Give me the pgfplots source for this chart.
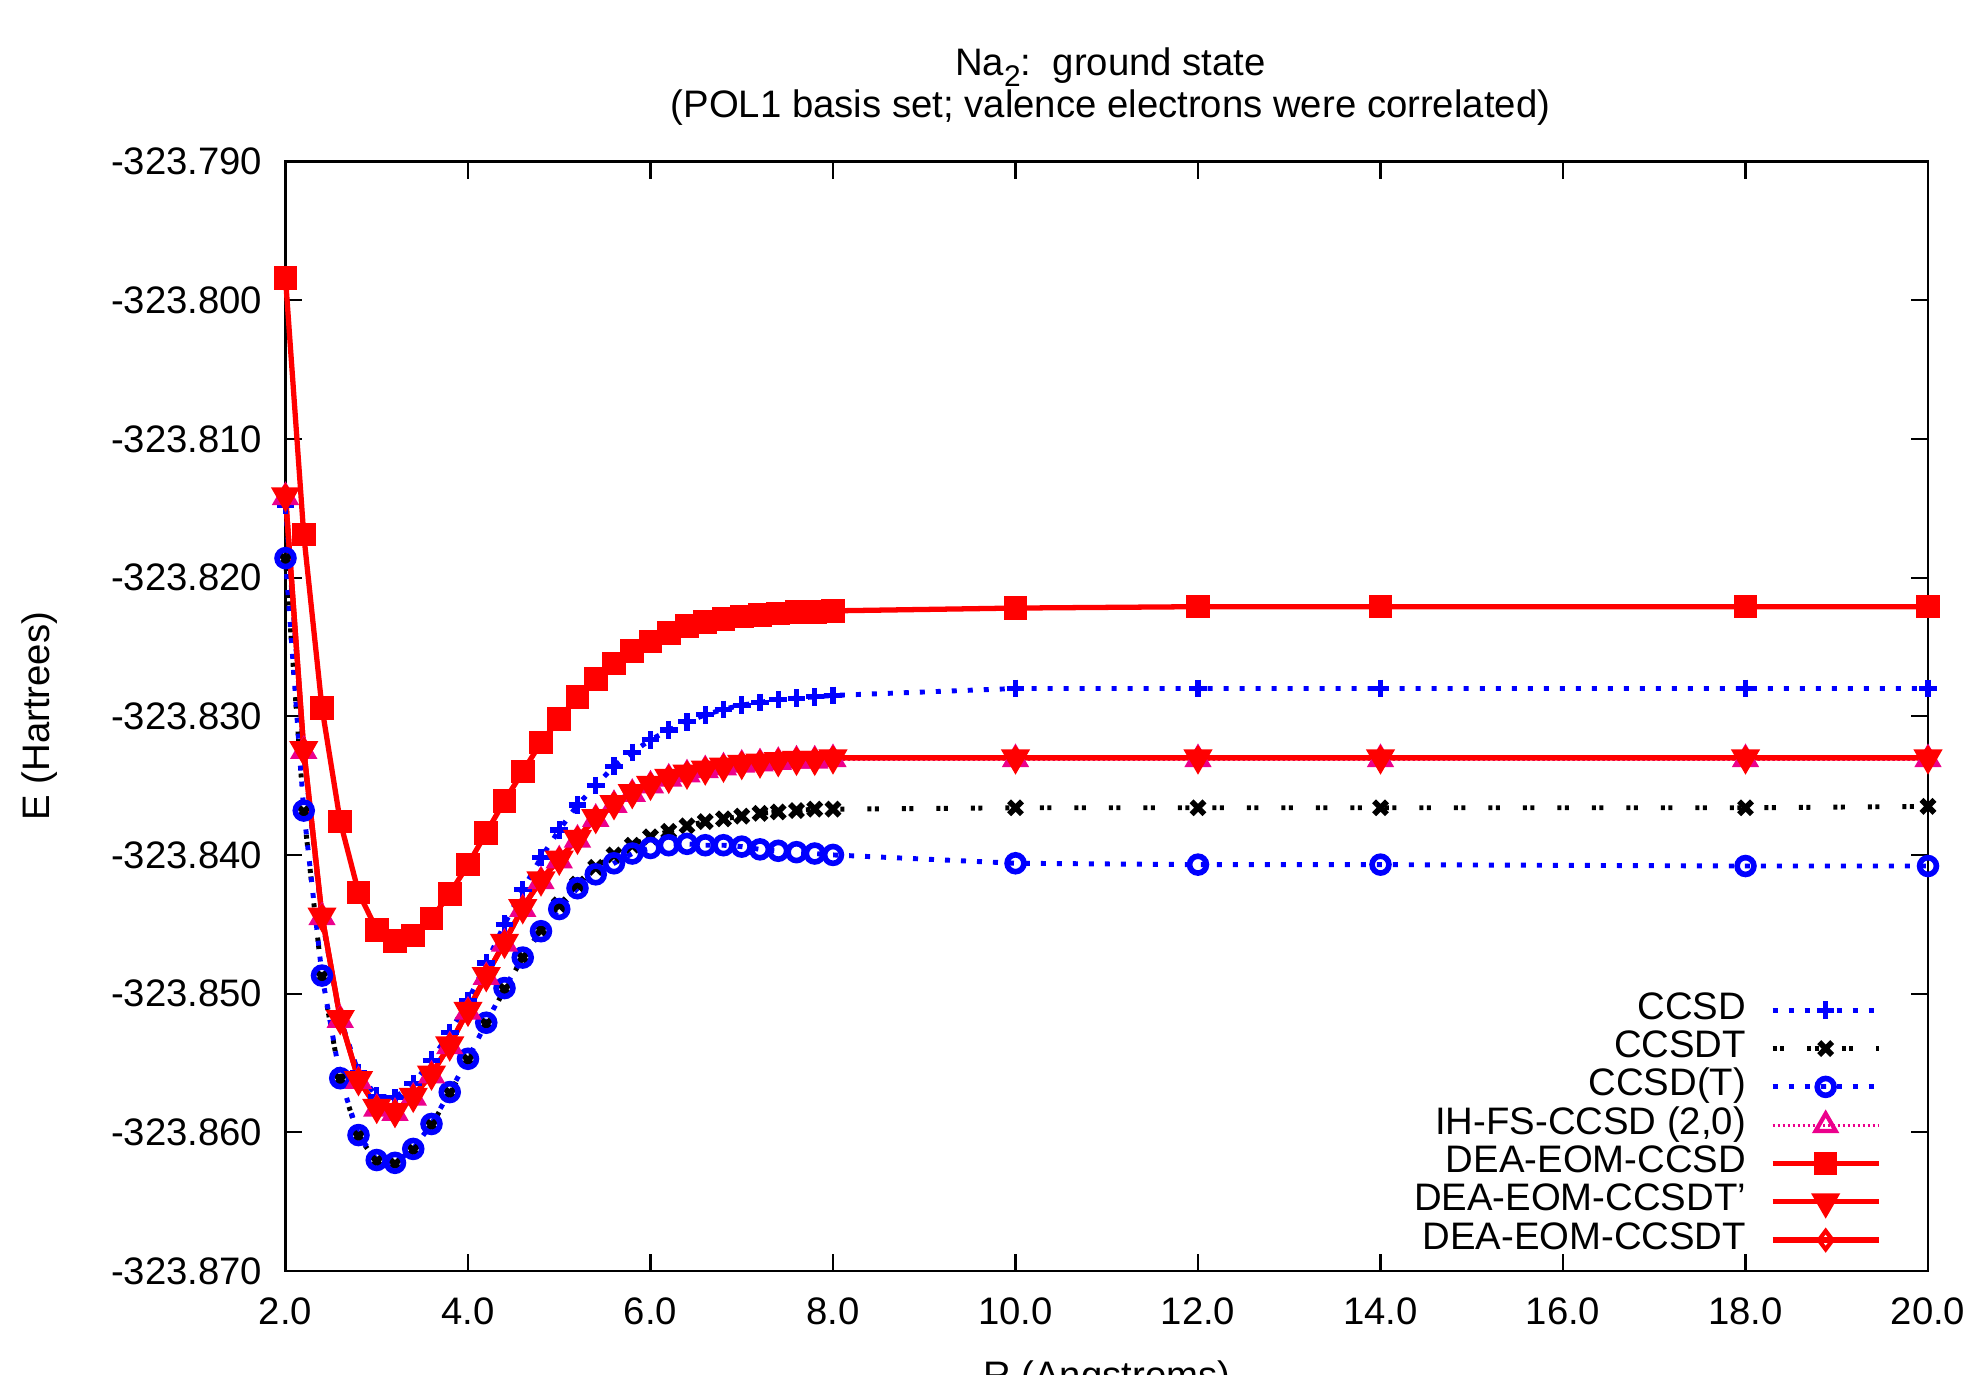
\documentclass[border=0pt]{standalone}
\usepackage{fontspec}
\setmainfont{Liberation Sans}
\usepackage{pgfplots}
\usepackage{pgfplotstable}
\pgfplotsset{compat=1.18}
\newcommand\fsz{\fontsize{10.9}{11.8}\selectfont}
% every energy starts with -323. ; keep only the digits after it so the FPU keeps its precision
\def\Eshift#1.#2#3#4#5\relax{\def\pgfmathresult{-#2#3#4.#5}}

\pgfplotstableread{
R    ccsd      ccsdt     ccsdpt    ihfs      dea       deatp     deat
2.0  -323.8148 -323.8187 -323.8186 -323.8142 -323.7984 -323.8141 -323.8141
2.2  -323.8327 -323.8369 -323.8368 -323.8325 -323.8169 -323.8324 -323.8324
2.4  -323.8446 -323.8488 -323.8487 -323.8445 -323.8294 -323.8444 -323.8444
2.6  -323.8518 -323.8562 -323.8561 -323.8519 -323.8376 -323.8518 -323.8518
2.8  -323.8557 -323.8603 -323.8602 -323.8563 -323.8427 -323.8562 -323.8562
3.0  -323.8574 -323.8621 -323.8620 -323.8583 -323.8454 -323.8582 -323.8582
3.2  -323.8575 -323.8623 -323.8622 -323.8586 -323.8462 -323.8585 -323.8585
3.4  -323.8565 -323.8613 -323.8612 -323.8575 -323.8458 -323.8574 -323.8574
3.6  -323.8548 -323.8595 -323.8594 -323.8559 -323.8446 -323.8558 -323.8558
3.8  -323.8528 -323.8572 -323.8571 -323.8538 -323.8428 -323.8537 -323.8537
4.0  -323.8505 -323.8548 -323.8547 -323.8513 -323.8407 -323.8512 -323.8512
4.2  -323.8478 -323.8522 -323.8521 -323.8488 -323.8384 -323.8487 -323.8487
4.4  -323.8450 -323.8497 -323.8496 -323.8464 -323.8361 -323.8463 -323.8463
4.6  -323.8425 -323.8474 -323.8474 -323.8439 -323.8340 -323.8438 -323.8438
4.8  -323.8402 -323.8454 -323.8455 -323.8419 -323.8319 -323.8418 -323.8418
5.0  -323.8382 -323.8436 -323.8439 -323.8404 -323.8302 -323.8403 -323.8403
5.2  -323.8364 -323.8421 -323.8424 -323.8389 -323.8286 -323.8388 -323.8388
5.4  -323.8350 -323.8409 -323.8414 -323.8374 -323.8273 -323.8373 -323.8373
5.6  -323.8336 -323.8400 -323.8406 -323.8364 -323.8262 -323.8363 -323.8363
5.8  -323.8326 -323.8393 -323.8399 -323.8356 -323.8253 -323.8355 -323.8355
6.0  -323.8317 -323.8387 -323.8395 -323.8350 -323.8246 -323.8349 -323.8349
6.2  -323.8310 -323.8383 -323.8393 -323.8345 -323.8240 -323.8344 -323.8344
6.4  -323.8304 -323.8379 -323.8392 -323.8342 -323.8235 -323.8341 -323.8341
6.6  -323.8299 -323.8376 -323.8393 -323.8339 -323.8232 -323.8338 -323.8338
6.8  -323.8295 -323.8374 -323.8393 -323.8337 -323.8230 -323.8336 -323.8336
7.0  -323.8292 -323.8372 -323.8394 -323.8335 -323.8228 -323.8334 -323.8334
7.2  -323.8290 -323.8370 -323.8396 -323.8334 -323.8227 -323.8333 -323.8333
7.4  -323.8288 -323.8369 -323.8397 -323.8333 -323.8226 -323.8332 -323.8332
7.6  -323.8287 -323.8368 -323.8398 -323.8332 -323.8225 -323.8331 -323.8331
7.8  -323.8286 -323.8367 -323.8399 -323.8332 -323.8225 -323.8331 -323.8331
8.0  -323.8285 -323.8367 -323.8400 -323.8331 -323.8224 -323.8330 -323.8330
10.0 -323.8280 -323.8366 -323.8406 -323.8331 -323.8222 -323.8330 -323.8330
12.0 -323.8280 -323.8366 -323.8407 -323.8331 -323.8221 -323.8330 -323.8330
14.0 -323.8280 -323.8366 -323.8407 -323.8331 -323.8221 -323.8330 -323.8330
18.0 -323.8280 -323.8366 -323.8408 -323.8331 -323.8221 -323.8330 -323.8330
20.0 -323.8280 -323.8365 -323.8408 -323.8331 -323.8221 -323.8330 -323.8330
}\energies

\begin{document}
\begin{tikzpicture}
\begin{axis}[
  at={(0,0)}, anchor=south west,
  scale only axis, width=16.425cm, height=11.095cm,
  xmin=2, xmax=20, ymin=-323.870, ymax=-323.790,
  y coord trafo/.code={\edef\Etmp{#1}\expandafter\Eshift\Etmp 000\relax},
  xtick={2,4,6,8,10,12,14,16,18,20},
  xticklabels={2.0,4.0,6.0,8.0,10.0,12.0,14.0,16.0,18.0,20.0},
  ytick={-323.870,-323.860,-323.850,-323.840,-323.830,-323.820,-323.810,-323.800,-323.790},
  yticklabels={-323.870,-323.860,-323.850,-323.840,-323.830,-323.820,-323.810,-323.800,-323.790},
  minor tick num=0,
  tick align=inside, major tick length=0.17cm,
  tick style={black,line width=0.6pt},
  axis line style={line width=0.6pt},
  tick label style={font=\fsz},
  xticklabel style={inner sep=0pt,yshift=-0.26cm},
  yticklabel style={inner sep=0pt,xshift=-0.225cm},
  label style={font=\fsz},
  xlabel={R (Angstroms)},
  xlabel style={at={(axis description cs:0.5,-0.0802)},anchor=north,inner sep=0pt},
  ylabel={E (Hartrees)},
  ylabel style={at={(axis description cs:-0.150,0.5)},anchor=center,inner sep=0pt},
  clip=false,
  legend plot pos=right,
  legend cell align=right,
  legend image code/.code={\draw[mark repeat=2,mark phase=2] plot coordinates {(0cm,0cm) (0.53cm,0cm) (1.06cm,0cm)};},
  legend style={at={(1,0)},anchor=south east,xshift=-0.46cm,yshift=0.11cm,
    draw=none,fill=none,inner sep=0pt,row sep=0pt,
    nodes={inner sep=0pt,text height=8pt,text depth=2.9pt,font=\fsz},
    /tikz/every odd column/.append style={column sep=0.24cm}},
]
\addplot[blue,line width=1.4pt,dash pattern=on 0.05cm off 0.11cm,
  mark=+,mark size=2.5pt,mark options={solid,line width=1.5pt}] table[x=R,y=ccsd]{\energies};
\addplot[black,line width=1.4pt,dash pattern=on 0.04cm off 0.035cm on 0.04cm off 0.23cm,
  mark=x,mark size=2.6pt,mark options={solid,line width=1.6pt}] table[x=R,y=ccsdt]{\energies};
\addplot[blue,line width=1.4pt,dash pattern=on 0.05cm off 0.11cm,
  mark=o,mark size=2.4pt,mark options={solid,line width=1.6pt}] table[x=R,y=ccsdpt]{\energies};
\addplot[magenta,line width=0.9pt,dash pattern=on 0.025cm off 0.025cm,
  mark=triangle,mark size=3.3pt,mark options={solid,line width=1.2pt}] table[x=R,y=ihfs]{\energies};
\addplot[red,line width=1.5pt,mark=square*,mark size=2.6pt] table[x=R,y=dea]{\energies};
\addplot[red,line width=1.5pt,mark=triangle*,mark size=3.3pt,mark options={rotate=180}] table[x=R,y=deatp]{\energies};
\addplot[red,line width=1.5pt,mark=diamond,mark size=2.6pt,mark options={line width=1.2pt}] table[x=R,y=deat]{\energies};
\legend{CCSD,CCSDT,CCSD(T),{IH-FS-CCSD (2,0)},DEA-EOM-CCSD,DEA-EOM-CCSDT',DEA-EOM-CCSDT}
\end{axis}
\node[anchor=base,font=\fsz] at (8.25,11.95) {Na\raisebox{-0.28em}{\fontsize{8.5}{9}\selectfont 2}:\ \ ground state};
\node[anchor=base,font=\fsz] at (8.25,11.53) {(POL1 basis set; valence electrons were correlated)};
\pgfresetboundingbox
\path[use as bounding box] (-2.855,-1.04) rectangle (16.775,12.71);
\end{tikzpicture}
\end{document}
